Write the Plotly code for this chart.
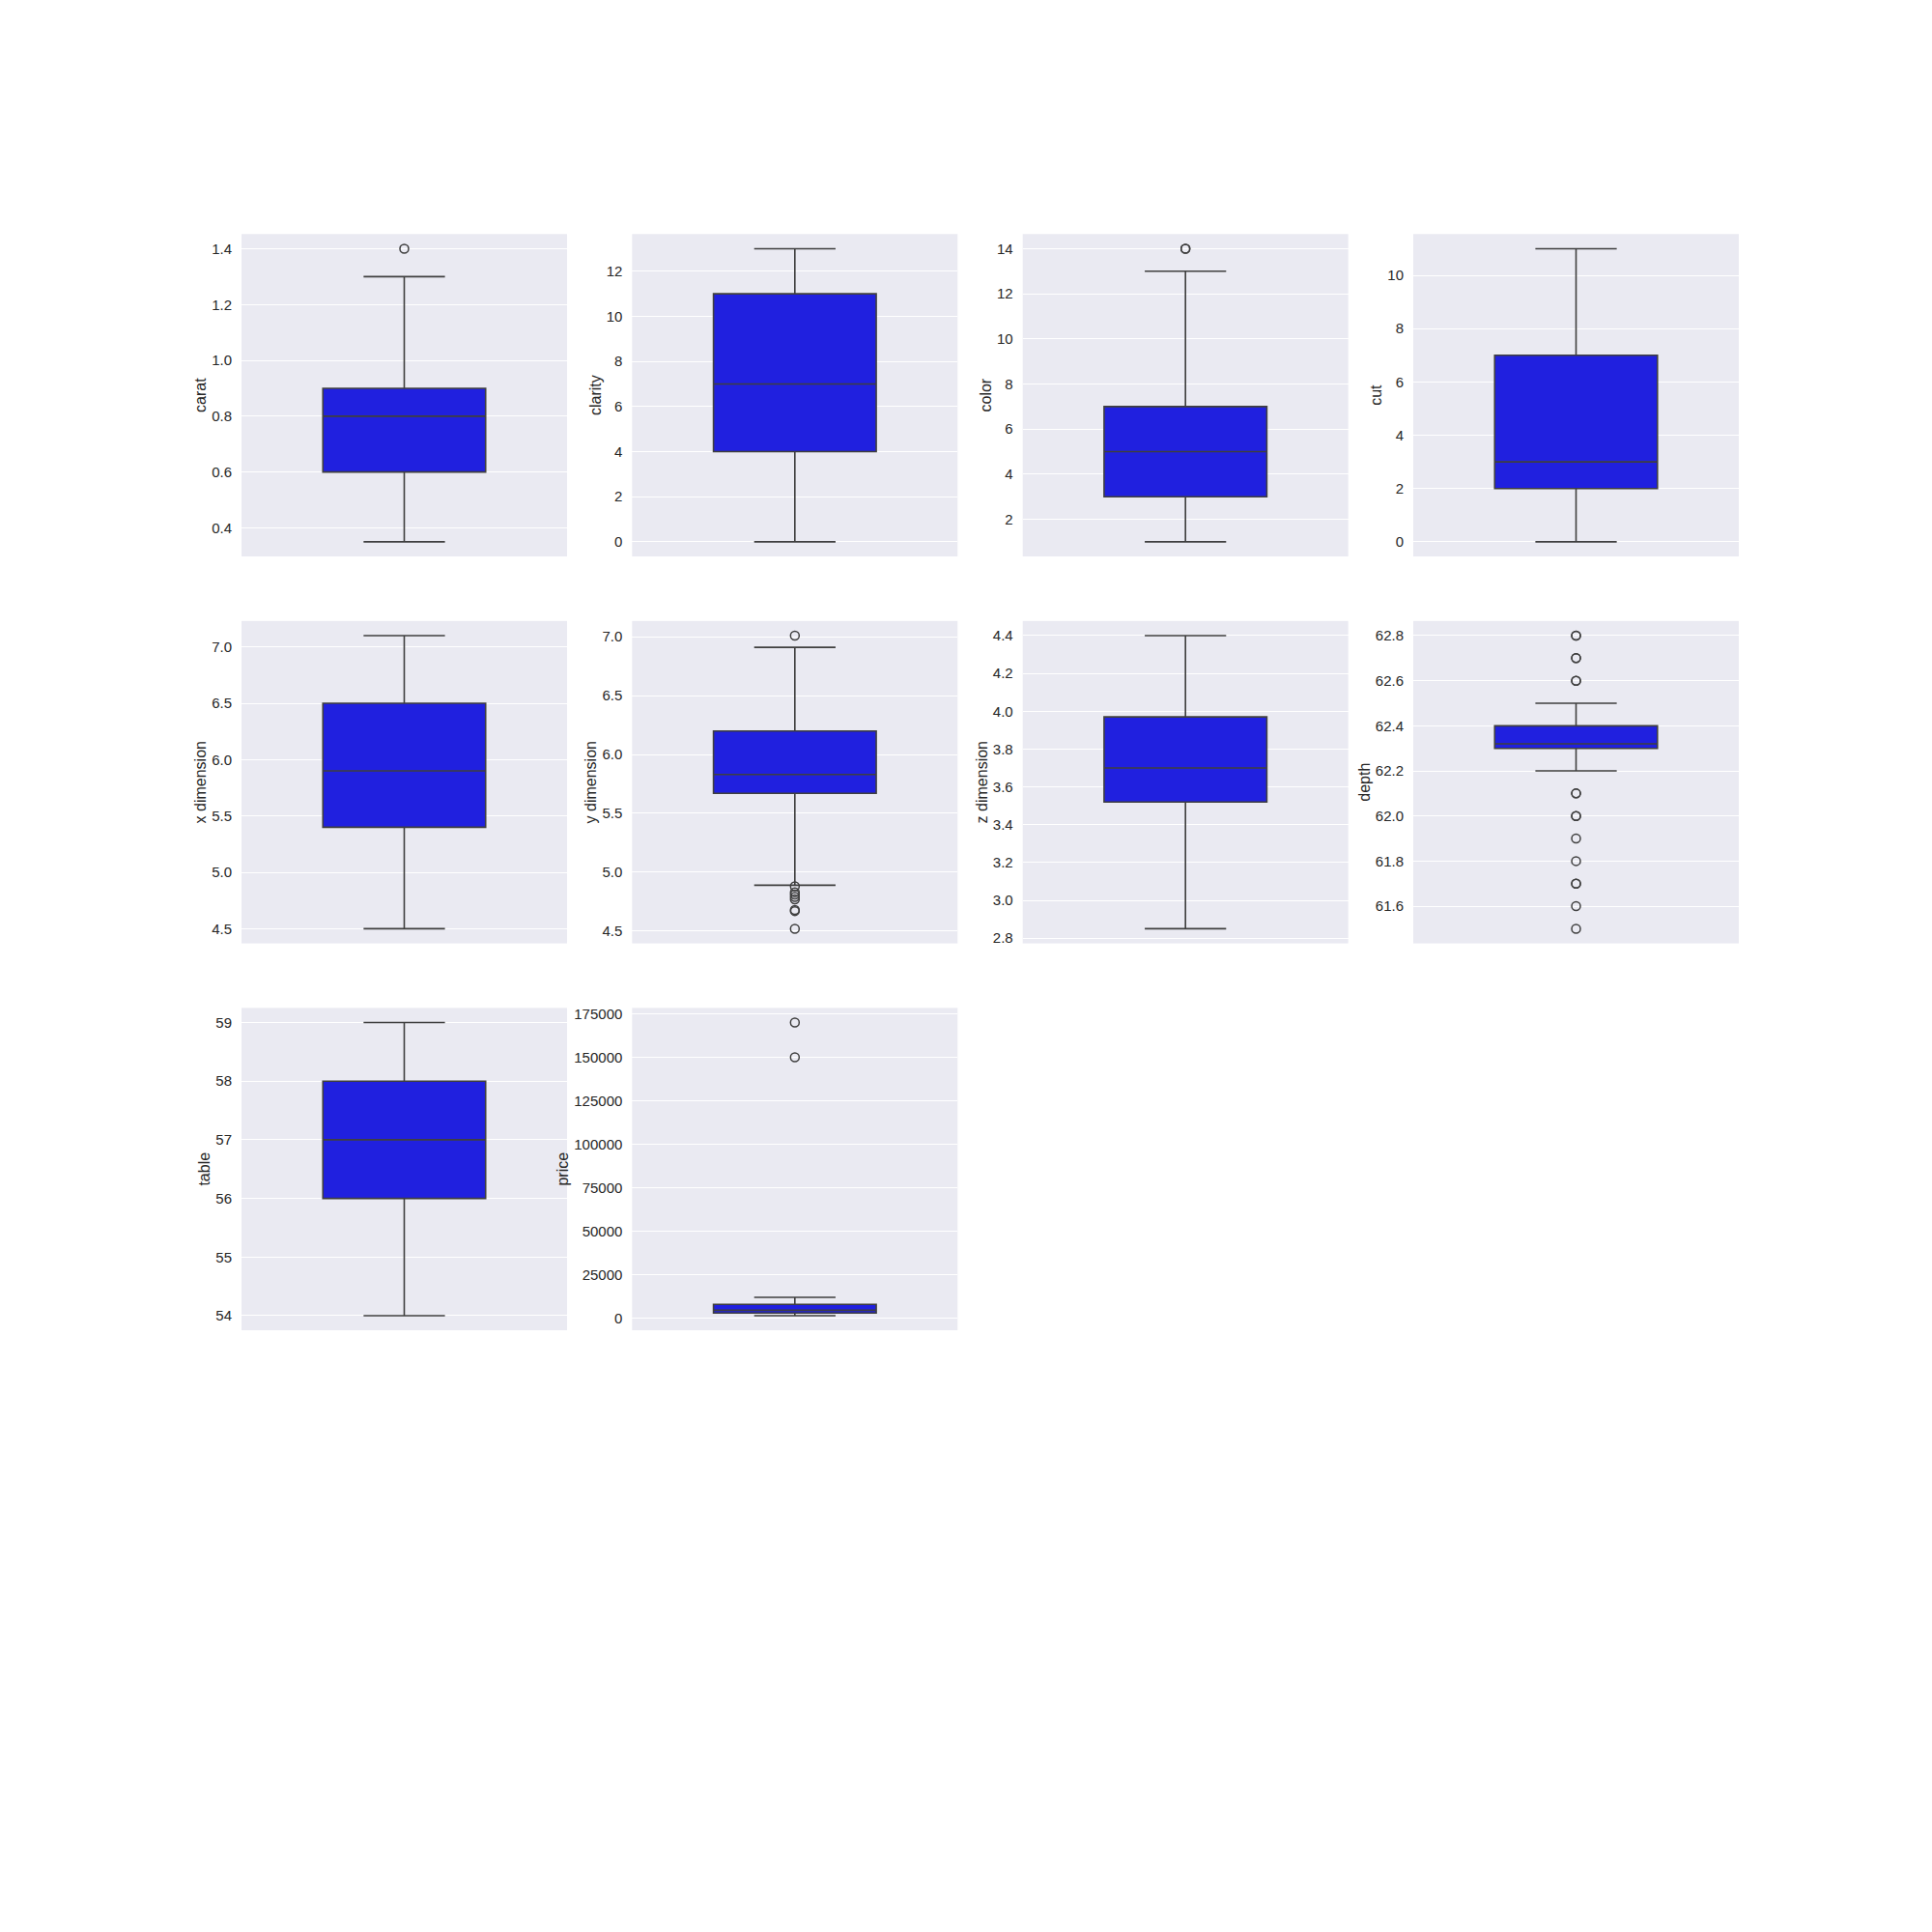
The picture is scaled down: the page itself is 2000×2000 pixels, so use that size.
import plotly.graph_objects as go

# ---- data ----
names = ["carat", "clarity", "color", "cut", "x dimension", "y dimension",
         "z dimension", "depth", "table", "price"]

lower_whisker = [0.35, 0, 1, 0, 4.5, 4.89, 2.85, 62.2, 54, 1300]
q1_values = [0.6, 4, 3, 2, 5.4, 5.67, 3.52, 62.3, 56, 2800]
median_values = [0.8, 7, 5, 3, 5.9, 5.83, 3.70, 62.32, 57, 4400]
q3_values = [0.9, 11, 7, 7, 6.5, 6.2, 3.97, 62.4, 58, 7800]
upper_whisker = [1.3, 13, 13, 11, 7.1, 6.91, 4.4, 62.5, 59, 11800]

outliers_carat = [1.4]
outliers_clarity = []
outliers_color = [14, 14]
outliers_cut = []
outliers_x = []
outliers_y = [7.01, 4.88, 4.83, 4.81, 4.79, 4.77, 4.68, 4.67, 4.52]
outliers_z = []
outliers_depth = [62.8, 62.8, 62.7, 62.7, 62.6, 62.6, 62.1, 62.1, 62.0, 62.0,
                  61.9, 61.8, 61.7, 61.7, 61.6, 61.5]
outliers_table = []
outliers_price = [170000, 150000]
outliers = [outliers_carat, outliers_clarity, outliers_color, outliers_cut,
            outliers_x, outliers_y, outliers_z, outliers_depth,
            outliers_table, outliers_price]

tick_carat = [0.4, 0.6, 0.8, 1.0, 1.2, 1.4]
tick_clarity = [0, 2, 4, 6, 8, 10, 12]
tick_color = [2, 4, 6, 8, 10, 12, 14]
tick_cut = [0, 2, 4, 6, 8, 10]
tick_x = [4.5, 5.0, 5.5, 6.0, 6.5, 7.0]
tick_y = [4.5, 5.0, 5.5, 6.0, 6.5, 7.0]
tick_z = [2.8, 3.0, 3.2, 3.4, 3.6, 3.8, 4.0, 4.2, 4.4]
tick_depth = [61.6, 61.8, 62.0, 62.2, 62.4, 62.6, 62.8]
tick_table = [54, 55, 56, 57, 58, 59]
tick_price = [0, 25000, 50000, 75000, 100000, 125000, 150000, 175000]
ticks = [tick_carat, tick_clarity, tick_color, tick_cut, tick_x, tick_y,
         tick_z, tick_depth, tick_table, tick_price]
tick_formats = [".1f", "d", "d", "d", ".1f", ".1f", ".1f", ".1f", "d", "d"]

# ---- styling ----
BOX_FILL = "#2020DF"
LINE = "#3f3f3f"
BG = "#EAEAF2"
TEXT = "#262626"
FONT = "Liberation Sans, Arial, sans-serif"

LEFT, TOP = 0.125, 0.12
COL_STEP, COL_W = 0.2021739, 0.1684783
ROW_STEP, ROW_H = 0.2008696, 0.1673913

fig = go.Figure()
layout = {}

for i, name in enumerate(names):
    r, c = divmod(i, 4)
    k = "" if i == 0 else str(i + 1)
    xa, ya = "x" + k, "y" + k

    fig.add_trace(go.Box(
        x=[0], q1=[q1_values[i]], median=[median_values[i]], q3=[q3_values[i]],
        lowerfence=[lower_whisker[i]], upperfence=[upper_whisker[i]],
        fillcolor=BOX_FILL, line=dict(color=LINE, width=1.6),
        width=0.5, whiskerwidth=0.5, boxpoints=False,
        xaxis=xa, yaxis=ya, showlegend=False, hoverinfo="skip"))

    if outliers[i]:
        fig.add_trace(go.Scatter(
            x=[0] * len(outliers[i]), y=outliers[i], mode="markers",
            marker=dict(symbol="circle-open", size=9, color=LINE,
                        line=dict(width=1.5, color=LINE)),
            xaxis=xa, yaxis=ya, showlegend=False, hoverinfo="skip"))

    # y-range like matplotlib autoscale (5% margins on data extent)
    lo = min([lower_whisker[i]] + outliers[i])
    hi = max([upper_whisker[i]] + outliers[i])
    pad = (hi - lo) * 0.05

    x0 = LEFT + c * COL_STEP
    ytop = 1 - TOP - r * ROW_STEP
    layout["xaxis" + k] = dict(
        domain=[x0, x0 + COL_W], range=[-0.5, 0.5], anchor=ya,
        showticklabels=False, showgrid=False, zeroline=False, showline=False,
        ticks="", fixedrange=True)
    layout["yaxis" + k] = dict(
        domain=[ytop - ROW_H, ytop], range=[lo - pad, hi + pad], anchor=xa,
        tickvals=ticks[i], tickformat=tick_formats[i],
        showgrid=True, gridcolor="white", gridwidth=1.3,
        zeroline=False, showline=False,
        ticks="outside", ticklen=6, tickcolor="rgba(0,0,0,0)",
        tickfont=dict(size=15, color=TEXT, family=FONT),
        title=dict(text=name, font=dict(size=16, color=TEXT, family=FONT),
                   standoff=1))

fig.update_layout(
    width=2000, height=2000,
    margin=dict(l=0, r=0, t=0, b=0),
    paper_bgcolor="white", plot_bgcolor=BG,
    showlegend=False,
    **layout)

fig.write_html("out.html")
